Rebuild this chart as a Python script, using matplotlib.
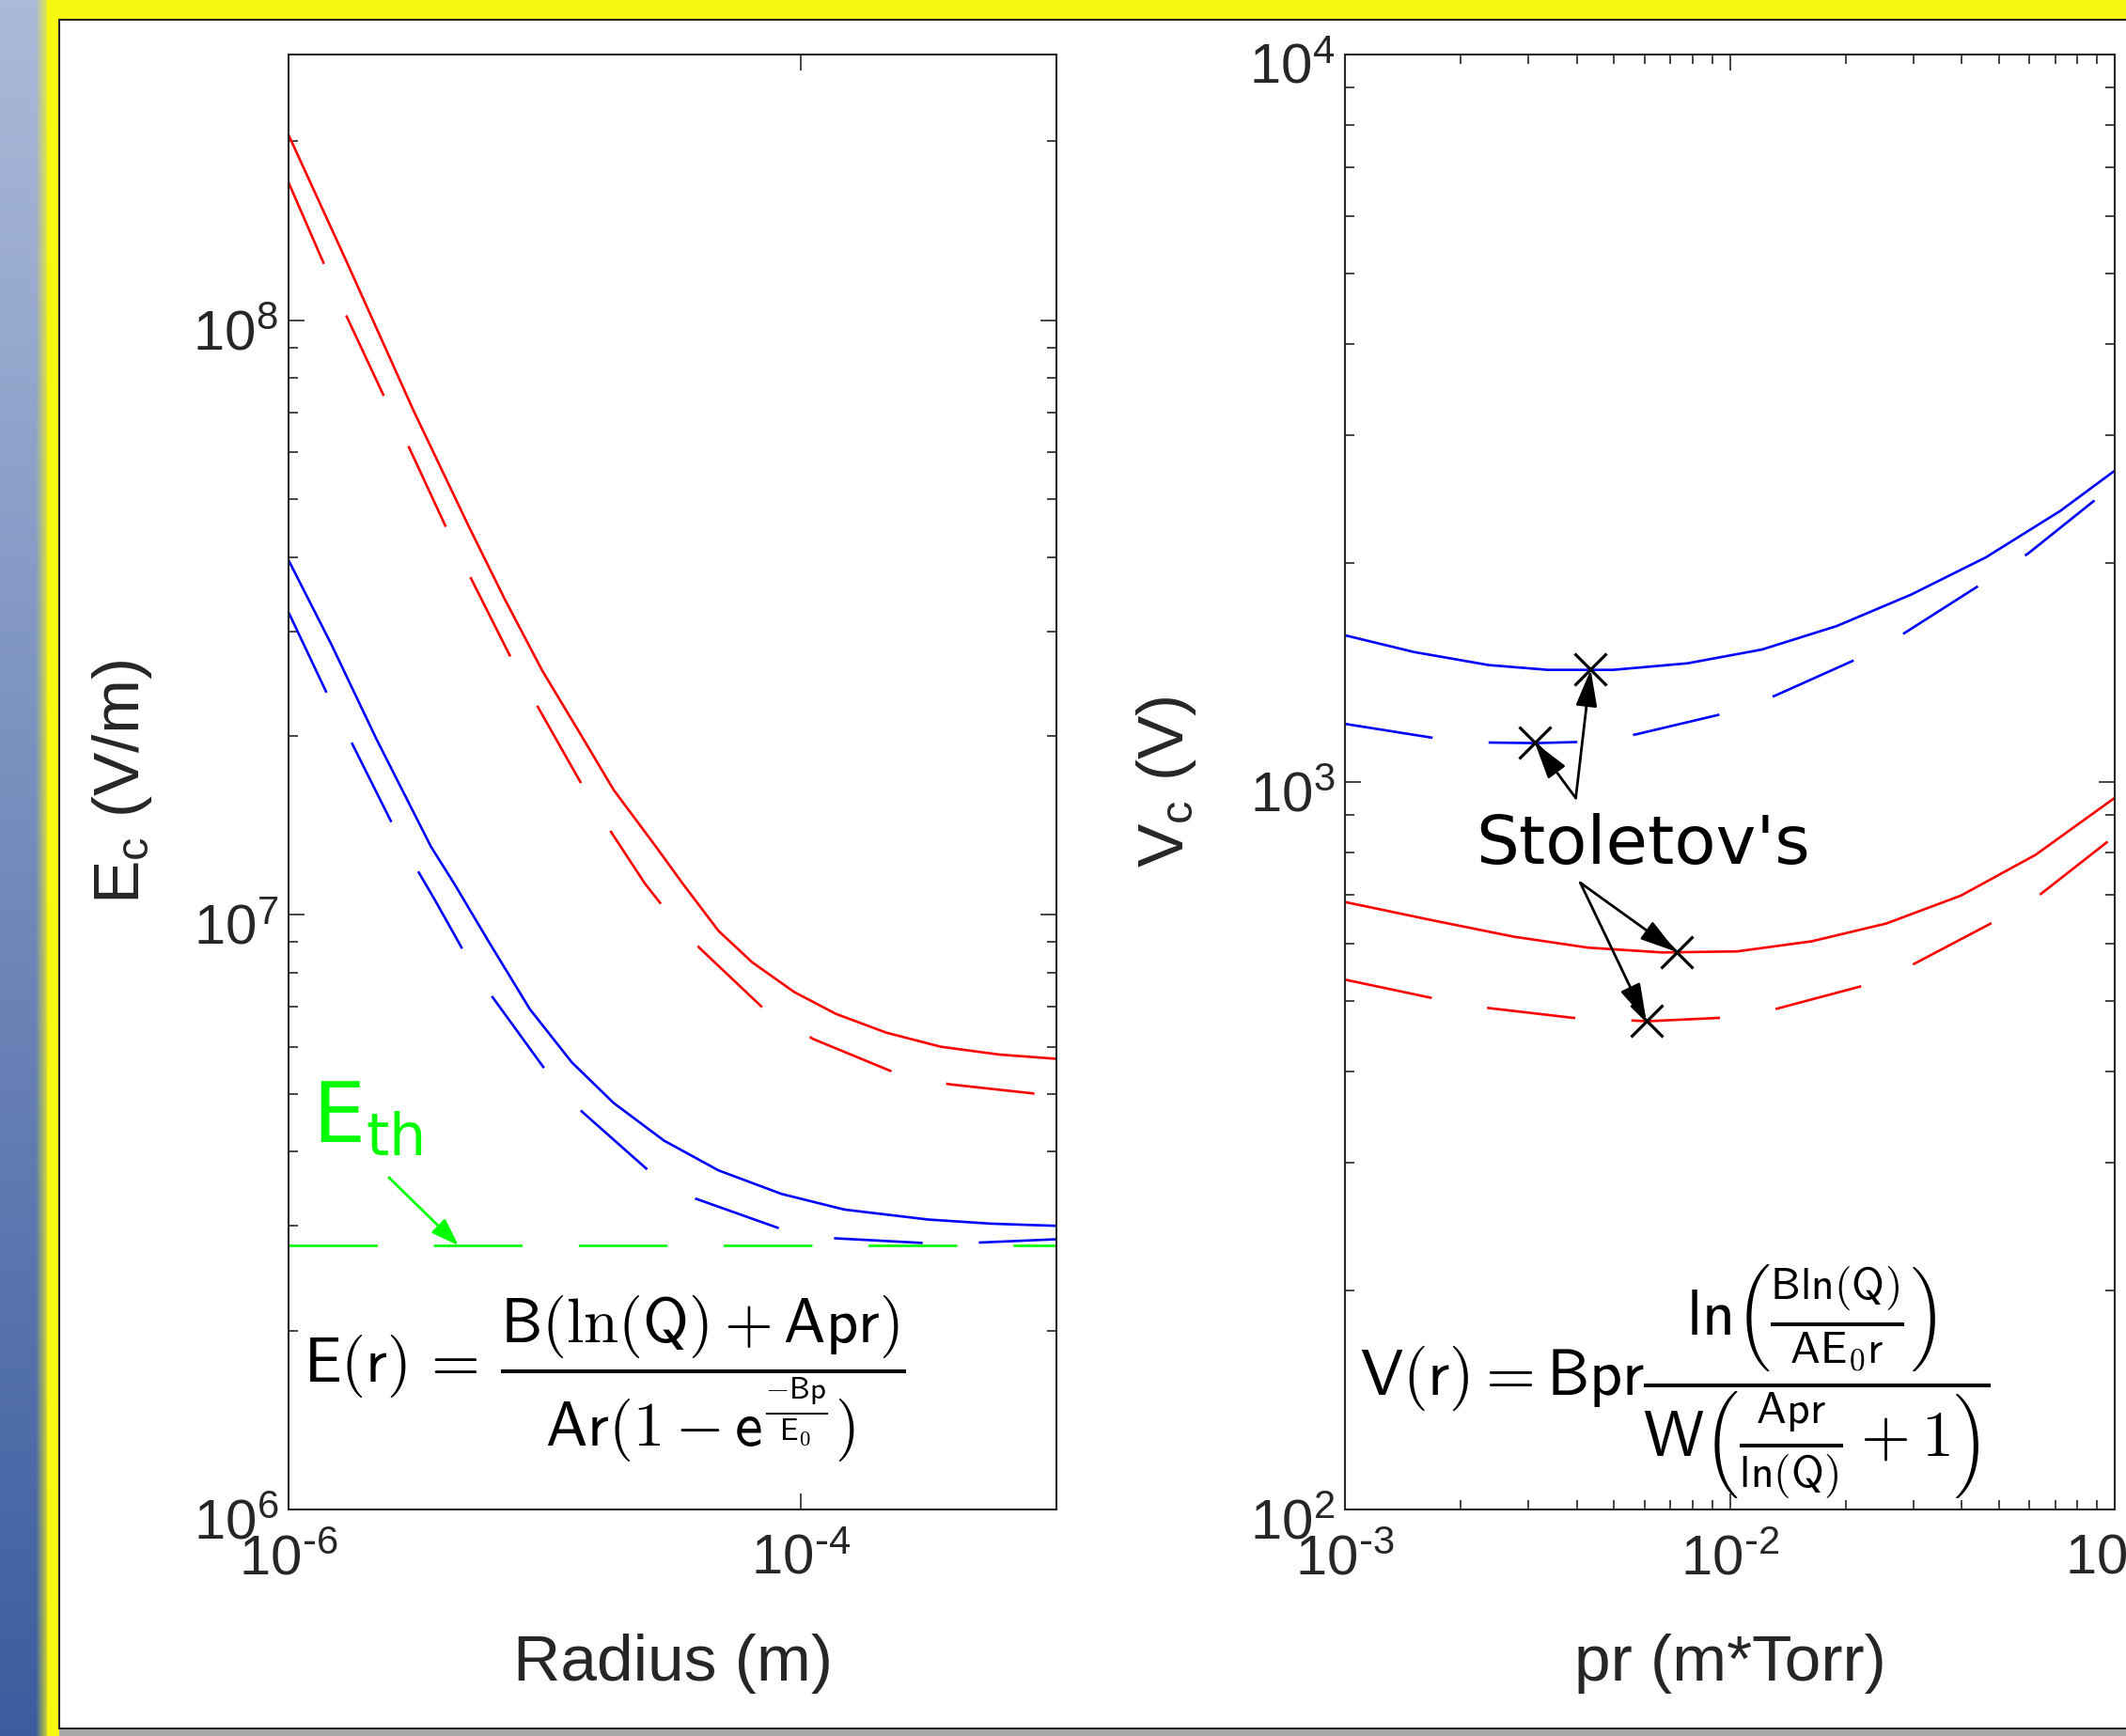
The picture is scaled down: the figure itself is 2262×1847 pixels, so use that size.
import numpy as np
import matplotlib.pyplot as plt
from matplotlib.patches import Rectangle
from matplotlib.transforms import ScaledTranslation
from matplotlib.ticker import LogLocator, FixedLocator, NullLocator, FuncFormatter, NullFormatter

plt.rcParams['font.family'] = ['Liberation Sans', 'DejaVu Sans']

# ---- left panel: critical field vs radius ----
r_red_solid = [1e-6, 1.6866e-6, 3.083e-6, 5.074e-6, 6.989e-6, 9.817e-6, 1.3784e-5, 1.8643e-5,
               2.7196e-5, 3.4754e-5, 4.7863e-5, 6.4718e-5, 9.4406e-5, 1.3762e-4, 2.1647e-4,
               3.5332e-4, 5.9911e-4, 1e-3]
E_red_solid = [2.0512e8, 1.2549e8, 7.0408e7, 4.4915e7, 3.3985e7, 2.5722e7, 2.018e7, 1.6221e7,
               1.3041e7, 1.1275e7, 9.4e6, 8.327e6, 7.422e6, 6.817e6, 6.3387e6,
               6.0022e6, 5.8228e6, 5.7282e6]

r_red_dash = [1e-6, 1.3784e-6, 1.6866e-6, 2.3578e-6, 2.9512e-6, 4.1208e-6, 5.1688e-6, 7.3961e-6,
              9.4565e-6, 1.4044e-5, 1.8298e-5, 2.474e-5, 2.8774e-5, 4.0392e-5, 7.1122e-5,
              1.1189e-4, 2.2909e-4, 3.8124e-4, 8.2626e-4, 1e-3]
E_red_dash = [1.7061e8, 1.2417e8, 1.0153e8, 7.4592e7, 6.1235e7, 4.4915e7, 3.6781e7, 2.7066e7,
              2.2315e7, 1.652e7, 1.374e7, 1.1275e7, 1.0382e7, 8.794e6, 6.9841e6,
              6.1872e6, 5.4474e6, 5.1903e6, 5.005e6, 4.9659e6]

r_blue_solid = [1e-6, 1.4737e-6, 2.2054e-6, 3.6057e-6, 4.4465e-6, 6.0117e-6, 8.7647e-6,
                1.2789e-5, 1.8643e-5, 2.9309e-5, 4.7863e-5, 8.431e-5, 1.4846e-4, 3.155e-4,
                5.559e-4, 1e-3]
E_blue_solid = [3.9509e7, 2.8445e7, 1.9756e7, 1.3013e7, 1.1275e7, 9.0633e6, 6.9425e6,
                5.6494e6, 4.8259e6, 4.1726e6, 3.7179e6, 3.3947e6, 3.1946e6, 3.0738e6,
                3.0248e6, 2.9997e6]

r_blue_dash = [1e-6, 1.4093e-6, 1.845e-6, 2.5235e-6, 3.2255e-6, 3.7527e-6, 4.7941e-6, 6.2458e-6,
               1e-5, 1.4044e-5, 2.52e-5, 3.8905e-5, 8.2761e-5, 1.3762e-4, 3.0404e-4,
               5.0582e-4, 1e-3]
E_blue_dash = [3.2285e7, 2.3632e7, 1.875e7, 1.4322e7, 1.1793e7, 1.0549e7, 8.74e6, 7.2876e6,
               5.5131e6, 4.6635e6, 3.7318e6, 3.3334e6, 2.9703e6, 2.8576e6, 2.8065e6,
               2.8123e6, 2.8477e6]

E_th = 2.78e6

# ---- right panel: breakdown voltage vs pr ----
pr_blue_solid = [1e-3, 1.5109e-3, 2.3605e-3, 3.3729e-3, 4.9671e-3, 7.7625e-3, 1.2124e-2,
                 1.8943e-2, 2.9601e-2, 4.6253e-2, 7.2259e-2, 0.1]
V_blue_solid = [1591, 1509, 1448, 1426, 1426, 1456, 1521, 1638, 1810, 2036, 2359, 2679]

pr_blue_dash = [1e-3, 1.6758e-3, 2.3605e-3, 3.1311e-3, 4.033e-3, 5.677e-3, 9.4168e-3,
                1.3057e-2, 2.1022e-2, 2.8314e-2, 4.4241e-2, 5.9566e-2, 8.9022e-2]
V_blue_dash = [1202, 1151, 1133, 1131, 1135, 1162, 1238, 1313, 1470, 1600, 1860, 2061, 2443]

pr_red_solid = [1e-3, 1.652e-3, 2.7391e-3, 4.2797e-3, 6.6866e-3, 1.0447e-2, 1.6322e-2,
                2.5504e-2, 3.9848e-2, 6.2258e-2, 0.1]
V_red_solid = [684, 647, 613, 592, 583, 585, 604, 639, 698, 794, 951]

pr_red_dash = [1e-3, 1.6758e-3, 2.3605e-3, 3.9139e-3, 6.1151e-3, 9.4168e-3, 1.3258e-2,
               2.1989e-2, 3.0042e-2, 4.7643e-2, 6.4135e-2, 9.5873e-2]
V_red_dash = [535, 505, 489, 474, 469, 474, 488, 524, 562, 639, 701, 828]

# Stoletov minima
pr_min = [4.35e-3, 3.113e-3, 7.27e-3, 6.065e-3]
V_min = [1427, 1133, 584, 470]

RED = '#ff0000'
BLUE = '#0000ff'
GREEN = '#00ff00'
AX = '#262626'
LW = 1.9
DASH = (0, (68 / LW, 43 / LW))

fig = plt.figure(figsize=(22.62, 18.47), dpi=100)

# slide-like background
bg = fig.add_axes([0, 0, 1, 1], zorder=-10)
g = np.linspace(0, 1, 256)[:, None, None]
top_c = np.array([0.67, 0.73, 0.85])
bot_c = np.array([0.23, 0.36, 0.62])
bg.imshow(top_c + (bot_c - top_c) * g, extent=(0, 60, 1847, 0), aspect='auto')
bg.add_patch(Rectangle((50, 0), 2300, 1847, fc='#f7f712', ec='none'))
fade = np.zeros((1, 64, 4))
fade[..., :3] = [0.97, 0.97, 0.07]
fade[..., 3] = np.linspace(0, 1, 64)
bg.imshow(fade, extent=(38, 54, 1847, 0), aspect='auto')
fade_top = np.zeros((64, 1, 4))
fade_top[..., :3] = [0.75, 0.75, 0.6]
fade_top[:, 0, 3] = np.linspace(1, 0, 64)
bg.imshow(fade_top, extent=(50, 2262, 9, 0), aspect='auto')
bg.add_patch(Rectangle((63, 21), 2300, 1818, fc='white', ec=AX, lw=1.5))
bg.add_patch(Rectangle((63, 1840), 2300, 10, fc='#a9a9a9', ec='none'))
bg.set_xlim(0, 2262)
bg.set_ylim(1847, 0)
bg.axis('off')


def pow10(v, pos):
    e = int(round(np.log10(v)))
    if e < 0:
        return r'$\mathregular{10^{\text{-}%d}}$' % -e
    return r'$\mathregular{10^{%d}}$' % e


def style(ax):
    ax.set_xscale('log')
    ax.set_yscale('log')
    for s in ax.spines.values():
        s.set_color(AX)
        s.set_linewidth(1.5)
    ax.tick_params(which='both', direction='in', top=True, right=True,
                   color=AX, width=1.2, labelcolor=AX, labelsize=43, pad=8)
    ax.tick_params(axis='x', pad=19)
    ax.tick_params(which='major', length=12)
    ax.tick_params(which='minor', length=7)
    ax.yaxis.set_major_locator(LogLocator(base=10))
    ax.yaxis.set_minor_locator(LogLocator(base=10, subs=np.arange(2, 10)))
    ax.yaxis.set_major_formatter(FuncFormatter(pow10))
    ax.yaxis.set_minor_formatter(NullFormatter())
    ax.xaxis.set_major_formatter(FuncFormatter(pow10))
    ax.xaxis.set_minor_formatter(NullFormatter())


axL = fig.add_axes([307 / 2262, 241 / 1847, 817 / 2262, 1548 / 1847])
style(axL)
axL.plot(r_red_solid, E_red_solid, color=RED, lw=LW)
axL.plot(r_red_dash, E_red_dash, color=RED, lw=LW, ls=DASH)
axL.plot(r_blue_solid, E_blue_solid, color=BLUE, lw=LW)
axL.plot(r_blue_dash, E_blue_dash, color=BLUE, lw=LW, ls=DASH)
axL.axhline(E_th, color=GREEN, lw=LW, ls=DASH)
axL.set_xlim(1e-6, 1e-3)
axL.set_ylim(1e6, 2.8e8)
axL.xaxis.set_major_locator(FixedLocator([1e-6, 1e-4, 1e-2]))
axL.xaxis.set_minor_locator(NullLocator())
axL.set_xlabel('Radius (m)', fontsize=50, color=AX)
axL.set_ylabel(r'$\mathregular{E_c}$ (V/m)', fontsize=50, color=AX)
axL.xaxis.set_label_coords(0.5, -0.085)
axL.yaxis.set_label_coords(-0.175, 0.5)

axL.annotate('', xy=(4.613e-6, E_th), xytext=(2.466e-6, 3.617e6),
             arrowprops=dict(arrowstyle='-|>,head_length=1.0,head_width=0.35',
                             color=GREEN, lw=2.0, mutation_scale=18, shrinkA=0, shrinkB=0))
axL.text(1.24e-6, 4.15e6, r'E$_{\mathregular{th}}$', color=GREEN, fontsize=64,
         family='DejaVu Sans', math_fontfamily='dejavusans', va='baseline')
axL.text(0.0195, 0.0895,
         r'$\mathsf{E}(\mathsf{r})\,=\,\dfrac{\mathsf{B}(\ln(\mathsf{Q}) + \mathsf{Apr})}'
         r'{\mathsf{Ar}(\mathsf{1} - \mathsf{e}^{\frac{-\mathsf{Bp}}{\mathsf{E}_\mathsf{0}}})}$',
         transform=axL.transAxes, fontsize=48, math_fontfamily='cm',
         ha='left', va='center', color='black')

axR = fig.add_axes([1431 / 2262, 241 / 1847, 819 / 2262, 1548 / 1847])
style(axR)
axR.plot(pr_blue_solid, V_blue_solid, color=BLUE, lw=LW)
axR.plot(pr_blue_dash, V_blue_dash, color=BLUE, lw=LW, ls=DASH)
axR.plot(pr_red_solid, V_red_solid, color=RED, lw=LW)
axR.plot(pr_red_dash, V_red_dash, color=RED, lw=LW, ls=DASH)
axR.plot(pr_min, V_min, ls='none', marker='x', ms=24, mew=2.3, color='black', zorder=5)
axR.set_xlim(1e-3, 1e-1)
axR.set_ylim(1e2, 1e4)
axR.xaxis.set_major_locator(LogLocator(base=10))
axR.xaxis.set_minor_locator(LogLocator(base=10, subs=np.arange(2, 10)))
axR.set_xlabel('pr (m*Torr)', fontsize=50, color=AX)
axR.set_ylabel(r'$\mathregular{V_c}$ (V)', fontsize=50, color=AX)
axR.xaxis.set_label_coords(0.5, -0.085)
axR.yaxis.set_label_coords(-0.19, 0.5)

axR.text(2.189e-3, 772, "Stoletov's", fontsize=52, family='DejaVu Sans',
         va='baseline', ha='left', color='black')
arrow = dict(arrowstyle='-|>,head_length=1.2,head_width=0.35', color='black',
             lw=2.0, mutation_scale=20, shrinkA=0, shrinkB=0)
for i in (0, 1):
    axR.annotate('', xy=(pr_min[i], V_min[i]), xytext=(3.978e-3, 950.6), arrowprops=arrow)
for i in (2, 3):
    axR.annotate('', xy=(pr_min[i], V_min[i]), xytext=(4.087e-3, 727), arrowprops=arrow)
axR.text(0.0195, 0.0879,
         r'$\mathsf{V}(\mathsf{r}) = \mathsf{Bpr}\dfrac{\mathsf{ln}\left(\frac{\mathsf{Bln}(\mathsf{Q})}'
         r'{\mathsf{AE}_\mathsf{0}\mathsf{r}}\right)}{\mathsf{W}\left(\frac{\mathsf{Apr}}'
         r'{\mathsf{ln}(\mathsf{Q})} + \mathsf{1}\right)}$',
         transform=axR.transAxes, fontsize=49, math_fontfamily='cm',
         ha='left', va='center', color='black')

# MATLAB-style tick labels sit a bit lower than the tick
fig.canvas.draw()
shift = ScaledTranslation(0, -10 / 100, fig.dpi_scale_trans)
for ax in (axL, axR):
    for lab in ax.get_yticklabels():
        lab.set_transform(lab.get_transform() + shift)

fig.savefig('out.png', dpi=100)
